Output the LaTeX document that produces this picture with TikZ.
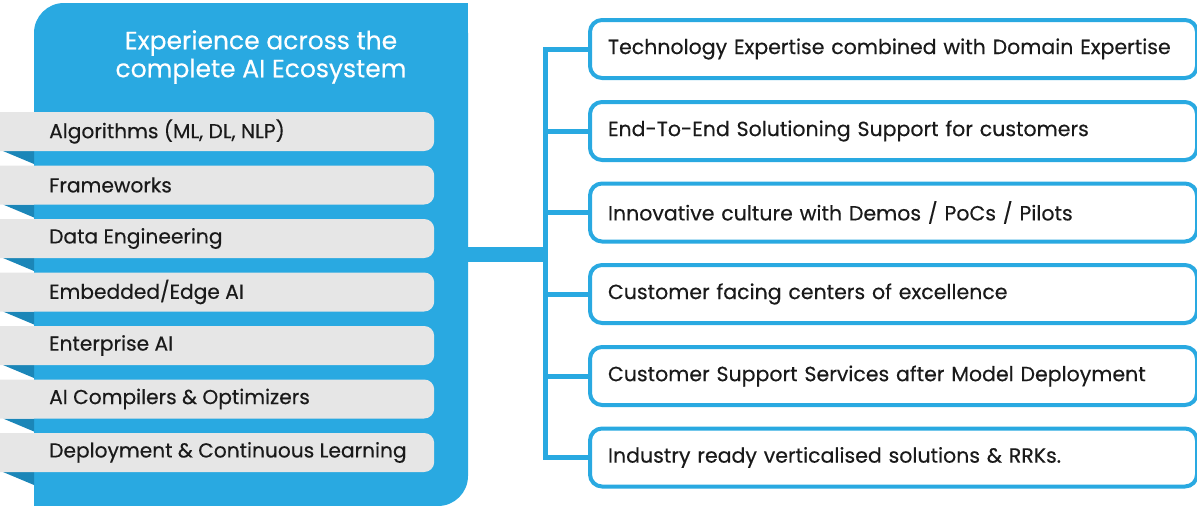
\documentclass[tikz,border=0pt]{standalone}
\usepackage{fontspec}
\setmainfont{Poppins}[FakeBold=0.35]
\definecolor{aiblue}{HTML}{29A9E1}
\definecolor{folddark}{HTML}{1B86B8}
\definecolor{bargray}{HTML}{E6E6E6}
\definecolor{txt}{HTML}{1A1A1A}
\newcommand{\barlabel}[1]{\makebox[324pt][l]{#1}}
\begin{document}
\begin{tikzpicture}[x=1pt,y=-1pt,
  bar/.style={fill=bargray, rounded corners=10pt, anchor=west, inner xsep=61pt, inner ysep=0pt,
    minimum height=39pt, text=txt, font=\fontsize{20.2}{24}\selectfont},
  fold/.style={fill=folddark},
  rbox/.style={draw=aiblue, line width=4pt, fill=white, rounded corners=12pt, anchor=west,
    inner xsep=18pt, inner ysep=0pt, text width=571pt, align=left, minimum height=58pt,
    text=txt, font=\fontsize{20.5}{24}\selectfont},
  link/.style={draw=aiblue, line width=5pt},
  trunk/.style={draw=aiblue, line width=15pt}
]
\useasboundingbox (0,0) rectangle (1197,506);
% panel
\fill[aiblue, rounded corners=30pt] (34,3) rectangle (468,506);
\fill[aiblue] (34,400) rectangle (120,506);
\fill[aiblue] (400,3) rectangle (468,100);
\node[text=white, align=center, font=\fontsize{25}{28}\selectfont] (title) at (261,57)
  {Experience across the\\complete AI Ecosystem};
% bars
\foreach \y/\n/\t in {131.5/b1/{Algorithms (ML, DL, NLP)},185/b2/{Frameworks},238.5/b3/{Data Engineering},
  292/b4/{Embedded/Edge AI},345.5/b5/{Enterprise AI},399/b6/{AI Compilers \& Optimizers},
  452.5/b7/{Deployment \& Continuous Learning}}{
  \fill[fold] (3,\y+19.5) -- (34,\y+19.5) -- (34,\y+32.5) -- cycle;
  \node[bar] (\n) at (-12,\y) {\barlabel{\t}};
}
% right boxes
\foreach \y/\n/\t in {49/r1/{Technology Expertise combined with Domain Expertise},
  131/r2/{End-To-End Solutioning Support for customers},
  212.5/r3/{Innovative culture with Demos / PoCs / Pilots},
  294/r4/{Customer facing centers of excellence},
  376/r5/{Customer Support Services after Model Deployment},
  457.5/r6/{Industry ready verticalised solutions \& RRKs.}}{
  \node[rbox] (\n) at (588,\y) {\t};
}
% connectors
\coordinate (pout) at (460,254.5);
\coordinate (hub) at (545.5,254.5);
\draw[trunk] (pout) -- (hub);
\foreach \n in {r1,r2,r3,r4,r5,r6}{
  \draw[link] (hub) |- (\n.west);
}
\end{tikzpicture}
\end{document}
